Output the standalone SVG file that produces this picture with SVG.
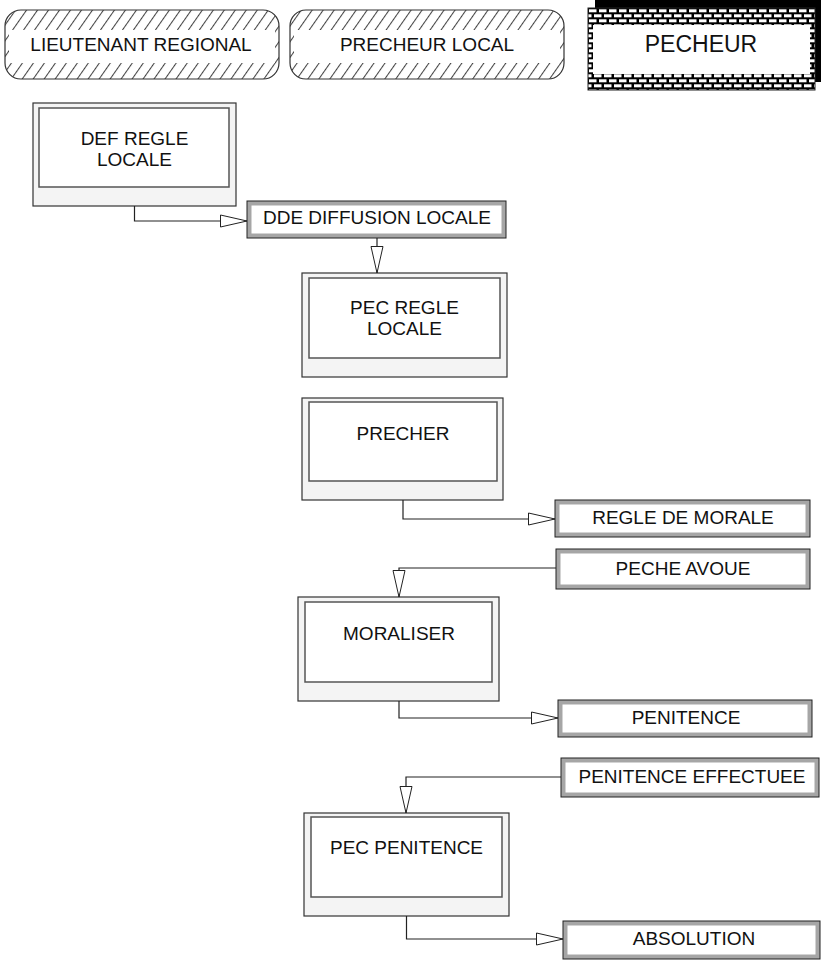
<svg xmlns="http://www.w3.org/2000/svg" width="823" height="960" viewBox="0 0 823 960">
<style>
text{font-family:"Liberation Sans",Arial,sans-serif;font-size:19px;fill:#111;text-anchor:middle}
.big{font-size:23px}
.pout{fill:#f4f4f4;stroke:#333;stroke-width:1.2}
.pin{fill:#fff;stroke:#555;stroke-width:1.5}
.dout{fill:#a6a6a6;stroke:#222;stroke-width:1}
.din{fill:#fff;stroke:none}
.conn{fill:none;stroke:#222;stroke-width:1.2}
</style>
<defs>
<pattern id="hatch" width="9" height="9" patternUnits="userSpaceOnUse" patternTransform="rotate(35)">
<rect width="9" height="9" fill="#fff"/>
<line x1="0.5" y1="0" x2="0.5" y2="9" stroke="#444" stroke-width="1.1"/>
</pattern>
<pattern id="brick" width="10" height="10" patternUnits="userSpaceOnUse" x="588" y="8">
<rect width="10" height="10" fill="#000"/>
<rect x="1" y="1.3" width="7.5" height="3" fill="#fff"/>
<rect x="6" y="6.3" width="7.5" height="3" fill="#fff"/>
<rect x="-4" y="6.3" width="7.5" height="3" fill="#fff"/>
</pattern>
<marker id="arr" markerUnits="userSpaceOnUse" markerWidth="30" markerHeight="16" refX="27" refY="7" orient="auto">
<path d="M0.5,1 L27,7 L0.5,13 Z" fill="#fff" stroke="#222" stroke-width="1"/>
</marker>
</defs>

<g id="lieutenant-regional">
<rect x="5" y="10" width="274" height="69" rx="16" ry="16" fill="url(#hatch)" stroke="#333" stroke-width="1.2"/>
<rect x="9" y="30" width="266" height="33" fill="#fff"/>
<text x="141" y="51">LIEUTENANT REGIONAL</text>
</g>
<g id="precheur-local">
<rect x="290" y="10" width="274" height="69" rx="16" ry="16" fill="url(#hatch)" stroke="#333" stroke-width="1.2"/>
<rect x="294" y="30" width="266" height="33" fill="#fff"/>
<text x="427" y="51">PRECHEUR LOCAL</text>
</g>
<g id="pecheur">
<rect x="595" y="0" width="226" height="82" fill="#000"/>
<rect x="588" y="8" width="227" height="82" fill="url(#brick)" stroke="#222" stroke-width="1"/>
<rect x="593" y="25" width="217" height="49" fill="#fff"/>
<text class="big" x="701" y="52">PECHEUR</text>
</g>

<g id="def-regle-locale">
<rect class="pout" x="33" y="103" width="203" height="103"/>
<rect class="pin" x="39" y="108" width="190" height="79"/>
<text x="134.5" y="144.5">DEF REGLE</text>
<text x="134.5" y="165.5">LOCALE</text>
</g>
<g id="dde-diffusion-locale">
<rect class="dout" x="247" y="201" width="259" height="37"/>
<rect class="din" x="251.5" y="205.5" width="250" height="28"/>
<text x="377" y="223.5">DDE DIFFUSION LOCALE</text>
</g>
<g id="pec-regle-locale">
<rect class="pout" x="302" y="273" width="205" height="104"/>
<rect class="pin" x="309" y="278" width="191" height="80"/>
<text x="404.5" y="313.5">PEC REGLE</text>
<text x="404.5" y="335">LOCALE</text>
</g>
<g id="precher">
<rect class="pout" x="302" y="398" width="201" height="102"/>
<rect class="pin" x="309" y="402" width="188" height="79"/>
<text x="403" y="439.5">PRECHER</text>
</g>
<g id="regle-de-morale">
<rect class="dout" x="555" y="500" width="255" height="37"/>
<rect class="din" x="559.5" y="504.5" width="246" height="28"/>
<text x="683" y="524">REGLE DE MORALE</text>
</g>
<g id="peche-avoue">
<rect class="dout" x="556" y="549" width="254" height="40"/>
<rect class="din" x="560.5" y="553.5" width="245" height="31"/>
<text x="683" y="575">PECHE AVOUE</text>
</g>
<g id="moraliser">
<rect class="pout" x="298" y="597" width="201" height="104"/>
<rect class="pin" x="305" y="602" width="187" height="80"/>
<text x="399" y="639.5">MORALISER</text>
</g>
<g id="penitence">
<rect class="dout" x="558" y="700" width="254" height="37"/>
<rect class="din" x="562.5" y="704.5" width="245" height="28"/>
<text x="686" y="723.5">PENITENCE</text>
</g>
<g id="penitence-effectuee">
<rect class="dout" x="561" y="758" width="258" height="39"/>
<rect class="din" x="565.5" y="762.5" width="249" height="30"/>
<text x="692" y="782.5">PENITENCE EFFECTUEE</text>
</g>
<g id="pec-penitence">
<rect class="pout" x="304" y="813" width="205" height="103"/>
<rect class="pin" x="311" y="817" width="191" height="80"/>
<text x="406.5" y="853.5">PEC PENITENCE</text>
</g>
<g id="absolution">
<rect class="dout" x="563" y="921" width="257" height="38"/>
<rect class="din" x="567.5" y="925.5" width="248" height="29"/>
<text x="694" y="945">ABSOLUTION</text>
</g>

<g id="connectors">
<path class="conn" d="M134.5,206 V221 H247" marker-end="url(#arr)"/>
<path class="conn" d="M377,238 V273" marker-end="url(#arr)"/>
<path class="conn" d="M403,500 V519 H555" marker-end="url(#arr)"/>
<path class="conn" d="M556,568 H399 V597" marker-end="url(#arr)"/>
<path class="conn" d="M399,701 V718 H558" marker-end="url(#arr)"/>
<path class="conn" d="M561,777 H406 V813" marker-end="url(#arr)"/>
<path class="conn" d="M406.5,916 V939 H563" marker-end="url(#arr)"/>
</g>
</svg>
